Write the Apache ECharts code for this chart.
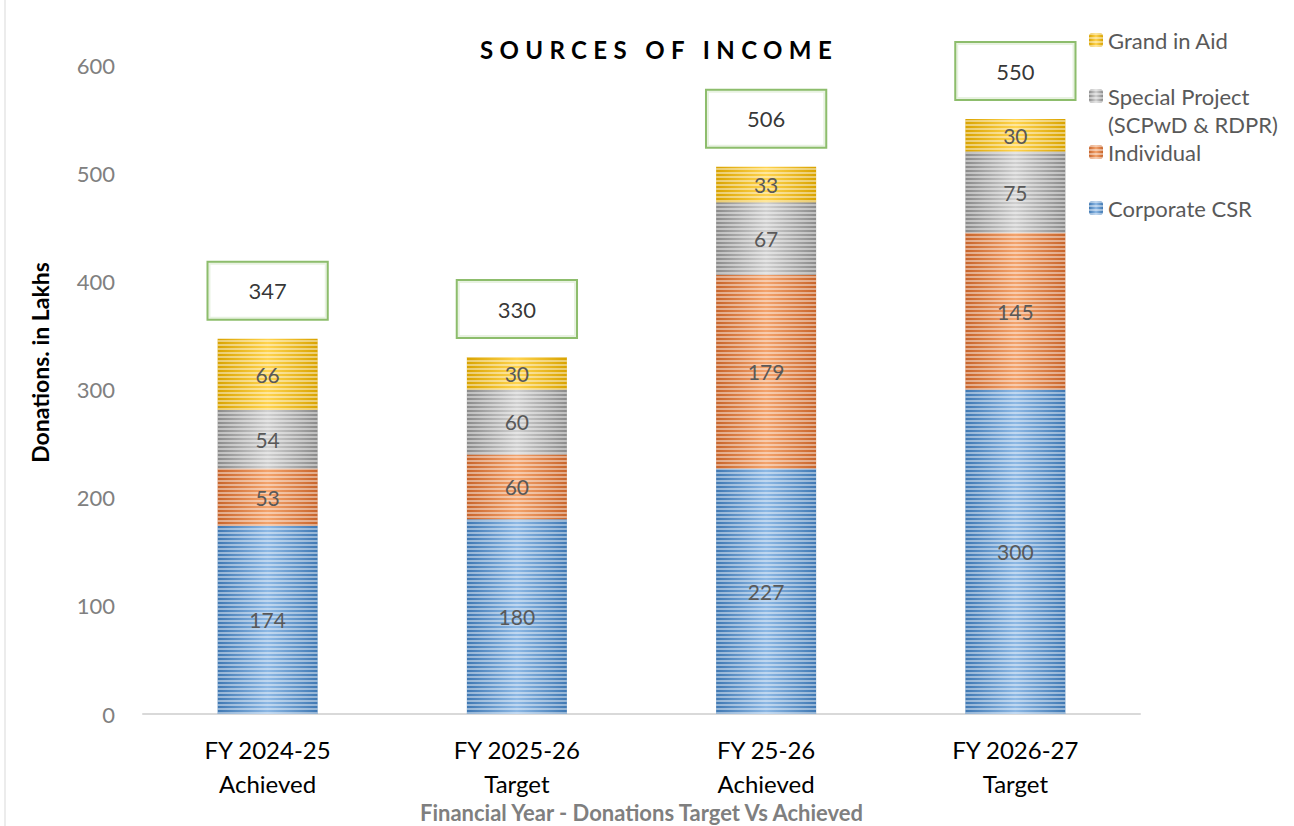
<!DOCTYPE html>
<html>
<head>
<meta charset="utf-8">
<script src="https://cdn.jsdelivr.net/npm/echarts@6/dist/echarts.min.js"></script>
<style>
html,body{margin:0;padding:0;background:#fff;}
#chart{width:1294px;height:826px;}
</style>
</head>
<body>
<div id="chart"></div>
<script>
// ---- Data ----
const categories = ['FY 2024-25\nAchieved', 'FY 2025-26\nTarget', 'FY 25-26\nAchieved', 'FY 2026-27\nTarget'];
const corporateCSR = [174, 180, 227, 300];
const individual = [53, 60, 179, 145];
const specialProject = [54, 60, 67, 75];
const grandInAid = [66, 30, 33, 30];
const totals = [347, 330, 506, 550];
const yTicks = [0, 100, 200, 300, 400, 500, 600];

const seriesNames = ['Corporate CSR', 'Individual', 'Special Project (SCPwD & RDPR)', 'Grand in Aid'];
const seriesValues = [corporateCSR, individual, specialProject, grandInAid];
const seriesColors = [
  ['#3f78b3', '#8db8e4'],
  ['#c8642a', '#f3a36c'],
  ['#8a8a8a', '#d0d0d0'],
  ['#d9a300', '#ffd34d']
];

const FONT = "Lato, 'Liberation Sans', Arial, sans-serif";

function grad(c) {
  return {
    type: 'linear', x: 0, y: 0, x2: 1, y2: 0,
    colorStops: [
      {offset: 0, color: c[0]},
      {offset: 0.5, color: c[1]},
      {offset: 1, color: c[0]}
    ]
  };
}

const chart = echarts.init(document.getElementById('chart'), null, {renderer: 'svg', width: 1294, height: 826});

const barSeries = seriesNames.map((name, i) => ({
  name: name,
  type: 'bar',
  stack: 'total',
  barWidth: 100,
  data: seriesValues[i],
  itemStyle: {
    color: grad(seriesColors[i]),
    decal: {
      symbol: 'rect',
      symbolSize: 1,
      dashArrayX: [1, 0],
      dashArrayY: [2, 2],
      color: 'rgba(255,255,255,0.45)'
    }
  },
  label: {
    show: true,
    position: 'inside',
    color: '#595959',
    fontSize: 21,
    fontFamily: FONT
  }
}));

const totalSeries = {
  name: 'Total',
  type: 'scatter',
  symbolSize: 0,
  data: totals,
  silent: true,
  label: {
    show: true,
    position: 'top',
    distance: 20,
    formatter: '{c}',
    color: '#000',
    fontSize: 22,
    fontFamily: FONT,
    backgroundColor: '#fff',
    borderColor: '#70ad47',
    borderWidth: 2,
    padding: [17, 40]
  },
  z: 10
};

const legendOrder = ['Grand in Aid', 'Special Project (SCPwD & RDPR)', 'Individual', 'Corporate CSR'];

chart.setOption({
  animation: false,
  backgroundColor: '#fff',
  title: {
    text: 'SOURCES OF INCOME',
    left: 654,
    textAlign: 'center',
    top: 32,
    textStyle: {
      fontFamily: FONT,
      fontWeight: 'bold',
      fontSize: 24,
      color: '#000'
    }
  },
  legend: {
    orient: 'vertical',
    left: 1089,
    top: 1,
    padding: 0,
    itemGap: -22,
    itemWidth: 14,
    itemHeight: 14,
    data: legendOrder,
    formatter: function (name) {
      const idx = name.indexOf(' (');
      if (idx >= 0) {
        return '{s| }\n{t|' + name.slice(0, idx) + '}\n{u|' + name.slice(idx + 1) + '}';
      }
      return '{s| }\n{t|' + name + '}\n{s| }';
    },
    textStyle: {
      color: '#595959',
      fontSize: 22,
      fontFamily: FONT,
      rich: {
        s: {lineHeight: 32, fontSize: 22},
        t: {lineHeight: 24, fontSize: 22, color: '#595959', fontFamily: FONT},
        u: {lineHeight: 32, fontSize: 22, color: '#595959', fontFamily: FONT}
      }
    }
  },
  grid: {
    left: 143,
    right: 154,
    top: 65,
    bottom: 112,
    containLabel: false,
    outerBoundsMode: 'none'
  },
  xAxis: {
    type: 'category',
    data: categories,
    name: 'Financial Year - Donations Target Vs Achieved',
    nameLocation: 'middle',
    nameGap: 87,
    nameMoveOverlap: false,
    nameTextStyle: {
      color: '#7f7f7f',
      fontWeight: 'bold',
      fontSize: 22,
      fontFamily: FONT
    },
    axisLine: {lineStyle: {color: '#d9d9d9', width: 2}},
    axisTick: {show: false},
    axisLabel: {
      color: '#000',
      fontSize: 24,
      lineHeight: 34,
      margin: 18,
      fontFamily: FONT
    }
  },
  yAxis: {
    type: 'value',
    min: yTicks[0],
    max: yTicks[yTicks.length - 1],
    interval: 100,
    name: 'Donations. in Lakhs',
    nameLocation: 'middle',
    nameGap: 92,
    nameMoveOverlap: false,
    nameTextStyle: {
      color: '#000',
      fontWeight: 'bold',
      fontSize: 23,
      fontFamily: FONT,
      padding: [0, 0, 0, 54]
    },
    axisLine: {show: false},
    axisTick: {show: false},
    splitLine: {show: false},
    axisLabel: {
      color: '#808080',
      fontSize: 22,
      margin: 28,
      fontFamily: FONT
    }
  },
  graphic: [{
    type: 'line',
    shape: {x1: 5, y1: 0, x2: 5, y2: 826},
    style: {stroke: '#d9d9d9', lineWidth: 1}
  }],
  series: barSeries.concat([totalSeries])
});

// widen the title's letter spacing (SVG text attribute)
document.querySelectorAll('#chart svg text').forEach(function (t) {
  if (t.textContent === 'SOURCES OF INCOME') {
    t.setAttribute('letter-spacing', '6.4px');
  }
});
</script>
</body>
</html>
